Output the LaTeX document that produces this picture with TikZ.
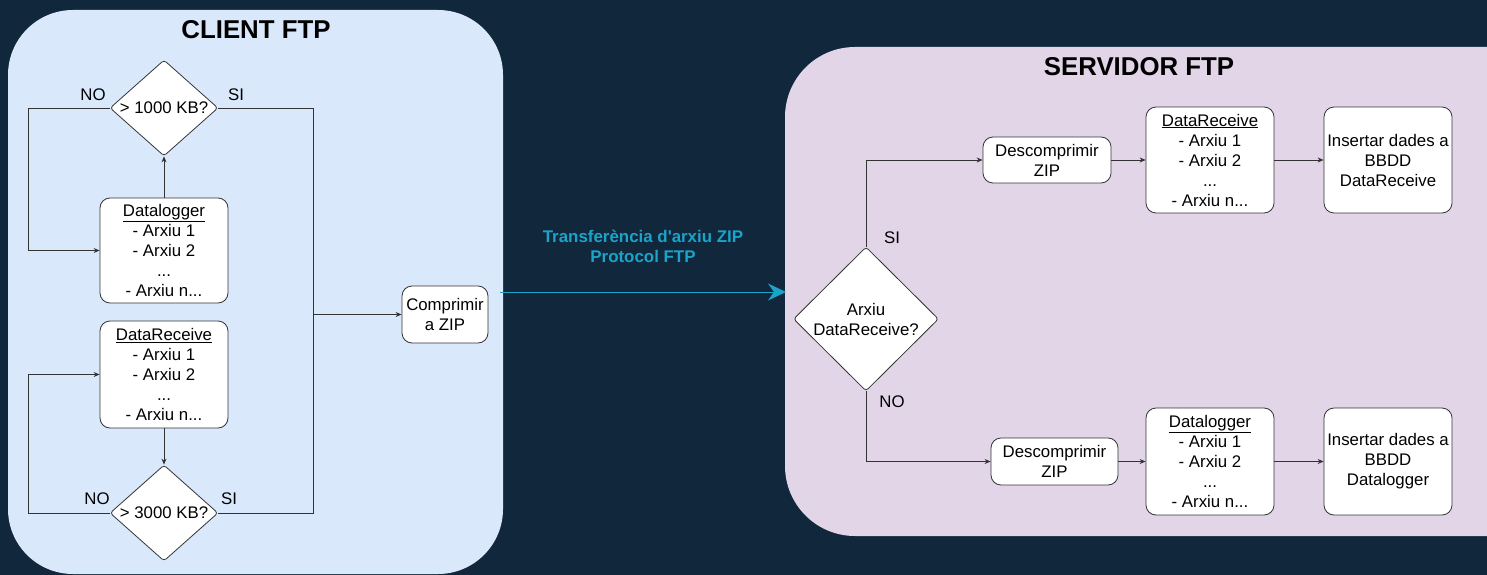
\documentclass[tikz,border=0pt]{standalone}
\usepackage{fontspec}
\setmainfont{Liberation Sans}
\usetikzlibrary{shapes.geometric,arrows.meta}
\definecolor{bgnavy}{HTML}{10273C}
\definecolor{clientbg}{HTML}{DAE8FC}
\definecolor{serverbg}{HTML}{E1D5E7}
\definecolor{xfer}{HTML}{1BA3C8}
\definecolor{edgeg}{HTML}{333333}
\tikzset{
  body/.style={font=\fontsize{16.8}{20}\selectfont, text=black},
  box/.style={body, draw=edgeg, fill=white, rounded corners=10pt, line width=0.8pt, inner sep=0pt, align=center},
  dec/.style={body, draw=edgeg, fill=white, diamond, rounded corners=3pt, line width=0.8pt, inner sep=0pt, align=center},
  conn/.style={draw=edgeg, line width=0.8pt},
  arr/.style={conn, -{Stealth[length=6pt,width=5pt]}},
  lab/.style={body, inner sep=0pt},
  ttl/.style={font=\fontsize{25.8}{30}\selectfont\bfseries, text=black, inner sep=0pt},
}
\begin{document}
\begin{tikzpicture}[x=1pt,y=-1pt]
\useasboundingbox[fill=bgnavy] (0,0) rectangle (1487,575);
% panels
\fill[clientbg, rounded corners=65pt] (8,10) rectangle (503,574);
\begin{scope}
\clip (0,0) rectangle (1487,575);
\fill[serverbg, rounded corners=70pt] (785,47) rectangle (1560,536);
\end{scope}
\node[ttl] (tc) at (256,30) {CLIENT FTP};
\node[ttl] (ts) at (1139,67) {SERVIDOR FTP};
% client nodes
\node[dec, aspect=1.125, minimum width=108pt, minimum height=96pt] (d1) at (164,108) {> 1000 KB?};
\node[box, minimum width=128pt, minimum height=105pt] (dl) at (164,250.5) {\underline{Datalogger}\\- Arxiu 1\\- Arxiu 2\\...\\- Arxiu n...};
\node[box, minimum width=128pt, minimum height=107pt] (dr) at (164,374.5) {\underline{DataReceive}\\- Arxiu 1\\- Arxiu 2\\...\\- Arxiu n...};
\node[dec, aspect=1.125, minimum width=108pt, minimum height=96pt] (d2) at (164,513) {> 3000 KB?};
\node[box, minimum width=86pt, minimum height=57pt] (cz) at (445,314.5) {Comprimir\\a ZIP};
% client connectors
\draw[arr] (dl.north) -- (d1.south);
\draw[arr] (dr.south) -- (d2.north);
\draw[arr] (d1.west) -- ++(-81,0) |- (dl.west);
\draw[arr] (d2.west) -- ++(-81,0) |- (dr.west);
\draw[conn] (d1.east) -- ++(95,0) coordinate (r1) -- (r1 |- d2.east) -- (d2.east);
\draw[arr] (r1 |- cz.west) -- (cz.west);
\node[lab] (no1) at (93,95) {NO};
\node[lab] (si1) at (236,95) {SI};
\node[lab] (no2) at (97,499) {NO};
\node[lab] (si2) at (229,499) {SI};
% transfer
\coordinate (xs) at (500,292);
\coordinate (xe) at (786,292);
\draw[xfer, line width=0.8pt, -{Stealth[length=18pt,width=17pt,inset=6pt]}] (xs) -- (xe);
\node[font=\fontsize{16.9}{20}\selectfont\bfseries, text=xfer, align=center, inner sep=0pt] (xl) at (643,246) {Transferència d\textquotesingle arxiu ZIP\\Protocol FTP};
% server nodes
\node[dec, minimum width=145pt, minimum height=144pt] (d3) at (866,319) {Arxiu\\DataReceive?};
\node[box, minimum width=128pt, minimum height=46pt] (dz1) at (1047,160) {Descomprimir\\ZIP};
\node[box, minimum width=128pt, minimum height=106pt] (sr) at (1210,160) {\underline{DataReceive}\\- Arxiu 1\\- Arxiu 2\\...\\- Arxiu n...};
\node[box, minimum width=128pt, minimum height=106pt] (i1) at (1388,160) {Insertar dades a\\BBDD\\DataReceive};
\node[box, minimum width=127pt, minimum height=47pt] (dz2) at (1054.5,461.5) {Descomprimir\\ZIP};
\node[box, minimum width=128pt, minimum height=107pt] (sl) at (1210,461.5) {\underline{Datalogger}\\- Arxiu 1\\- Arxiu 2\\...\\- Arxiu n...};
\node[box, minimum width=128pt, minimum height=107pt] (i2) at (1388,461.5) {Insertar dades a\\BBDD\\Datalogger};
% server connectors
\draw[arr] (d3.north) |- (dz1.west);
\draw[arr] (d3.south) |- (dz2.west);
\draw[arr] (dz1.east) -- (sr.west);
\draw[arr] (sr.east) -- (i1.west);
\draw[arr] (dz2.east) -- (sl.west);
\draw[arr] (sl.east) -- (i2.west);
\node[lab] (si3) at (892,238) {SI};
\node[lab] (no3) at (892,402) {NO};
\end{tikzpicture}
\end{document}
